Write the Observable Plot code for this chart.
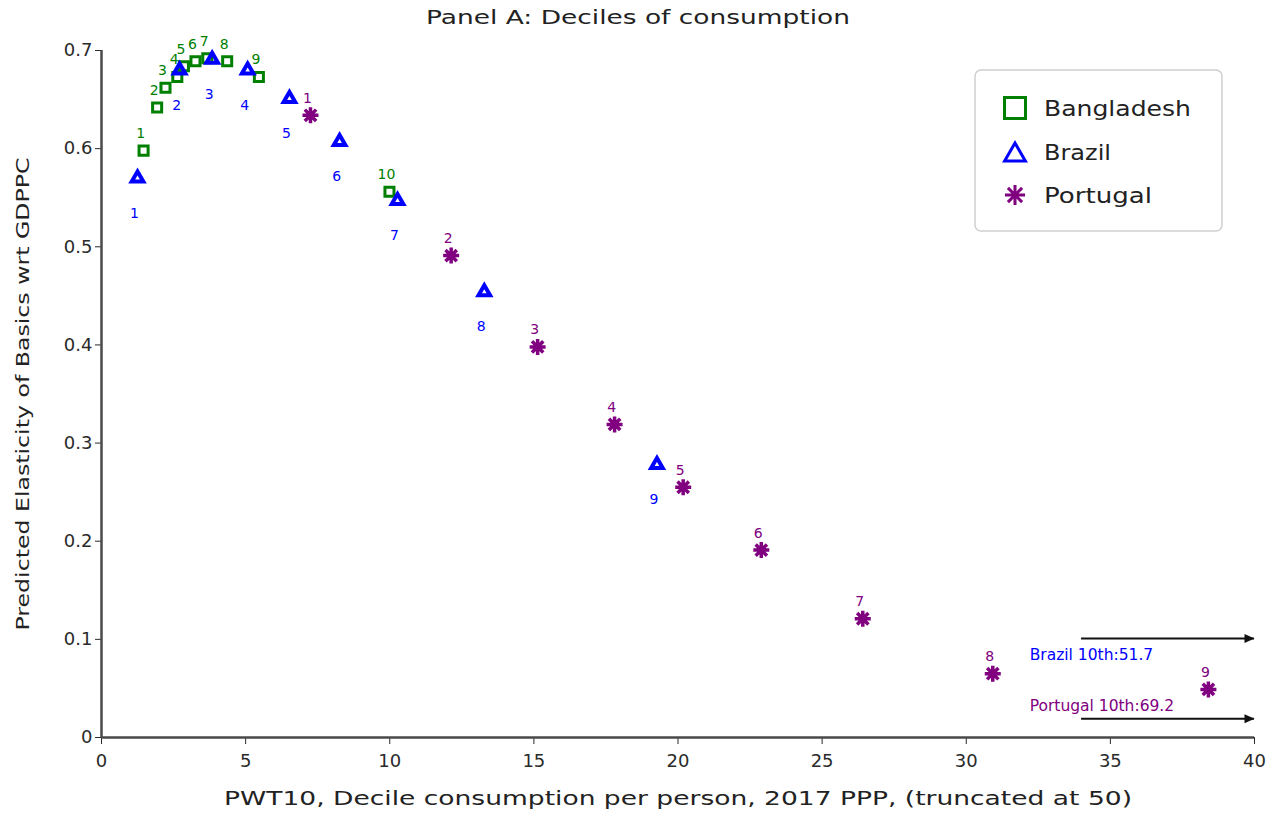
<!DOCTYPE html>
<html>
<head>
<meta charset="utf-8">
<script src="https://cdn.jsdelivr.net/npm/d3@7"></script>
<script src="https://cdn.jsdelivr.net/npm/@observablehq/plot@0.6"></script>
<style>
  html, body { margin: 0; padding: 0; background: #fff; }
  #chart { width: 1274px; height: 815px; }
</style>
</head>
<body>
<div id="chart"></div>
<script>
// Predicted elasticity of basics w.r.t. GDP per capita, by decile of consumption
const deciles = [1, 2, 3, 4, 5, 6, 7, 8, 9, 10];

const bangladeshX = [1.46, 1.93, 2.22, 2.63, 2.86, 3.26, 3.67, 4.36, 5.46, 9.99];
const bangladeshY = [0.598, 0.642, 0.662, 0.673, 0.684, 0.689, 0.692, 0.689, 0.673, 0.556];

const brazilX = [1.25, 2.71, 3.84, 5.07, 6.52, 8.26, 10.27, 13.28, 19.27];
const brazilY = [0.570, 0.680, 0.691, 0.680, 0.651, 0.607, 0.547, 0.454, 0.278];

const portugalX = [7.25, 12.13, 15.13, 17.80, 20.18, 22.89, 26.41, 30.92, 38.40];
const portugalY = [0.634, 0.491, 0.398, 0.319, 0.255, 0.191, 0.121, 0.065, 0.049];

// top deciles lie beyond the truncated axis
const topCountries = ["Brazil", "Portugal"];
const topX = [51.7, 69.2];
const topY = [0.101, 0.019];

const xTicks = [0, 5, 10, 15, 20, 25, 30, 35, 40];
const yTicks = [0, 0.1, 0.2, 0.3, 0.4, 0.5, 0.6, 0.7];

const titleText = "Panel A: Deciles of consumption";
const xLabel = "PWT10, Decile consumption per person, 2017 PPP, (truncated at 50)";
const yLabel = "Predicted Elasticity of Basics wrt GDPPC";

const green = "#008000", blue = "#0000ff", purple = "#800080";
const axisColor = "#4a4a4a";
const font = "'DejaVu Sans', Verdana, sans-serif";

const rows = (xs, ys) => xs.map((x, i) => ({decile: deciles[i], x, y: ys[i]}));
const bangladesh = rows(bangladeshX, bangladeshY);
const brazil = rows(brazilX, brazilY);
const portugal = rows(portugalX, portugalY);
const tops = topCountries.map((c, i) => ({country: c, x: topX[i], y: topY[i]}));

// eight-armed asterisk
const asterisk8 = {
  draw(context, size) {
    const r = Math.sqrt(size / Math.PI);
    for (let k = 0; k < 4; k++) {
      const a = k * Math.PI / 4;
      const c = Math.cos(a) * r, s = Math.sin(a) * r;
      context.moveTo(c, s);
      context.lineTo(-c, -s);
    }
  }
};

// solid arrowhead whose tip sits on the anchor point, pointing right
const arrowHead = {
  draw(context) {
    context.moveTo(0, 0);
    context.lineTo(-10, -4.5);
    context.lineTo(-10, 4.5);
    context.closePath();
  }
};

const arrowFrom = 34, arrowTo = 40, noteX = 32.2;
const noteText = d => `${d.country} 10th:${d.x}`;

const chart = Plot.plot({
  width: 1274,
  height: 815,
  marginLeft: 101,
  marginRight: 20,
  marginTop: 50,
  marginBottom: 78,
  style: {fontFamily: font, fontSize: "18px", color: "#2a2a2a", background: "#fff"},
  x: {domain: [0, 40], ticks: xTicks, tickFormat: d => String(d), tickSize: 7, tickPadding: 10, label: null},
  y: {domain: [0, 0.7], ticks: yTicks, tickFormat: d => String(d), tickSize: 6, tickPadding: 3, label: null},
  marks: [
    Plot.ruleY([0], {stroke: axisColor, strokeWidth: 2.5}),
    Plot.ruleX([0], {stroke: axisColor, strokeWidth: 2.5}),

    Plot.dot(bangladesh, {x: "x", y: "y", symbol: "square", r: 5.1, fill: "none", stroke: green, strokeWidth: 3}),
    Plot.dot(brazil, {x: "x", y: "y", symbol: "triangle", r: 4.3, fill: "none", stroke: blue, strokeWidth: 4}),
    Plot.dot(portugal, {x: "x", y: "y", symbol: asterisk8, r: 8, fill: "none", stroke: purple, strokeWidth: 3.5}),

    Plot.text(bangladesh, {x: "x", y: "y", text: "decile", dx: -3, dy: -17, fill: green, fontSize: 14}),
    Plot.text(brazil, {x: "x", y: "y", text: "decile", dx: -3, dy: 35, fill: blue, fontSize: 14}),
    Plot.text(portugal, {x: "x", y: "y", text: "decile", dx: -3, dy: -17, fill: purple, fontSize: 14}),

    // off-scale top deciles
    Plot.ruleY(tops, {y: "y", x1: () => arrowFrom, x2: () => arrowTo, stroke: "#111", strokeWidth: 2}),
    Plot.dot(tops, {x: () => arrowTo, y: "y", symbol: arrowHead, fill: "#111", stroke: "none"}),
    Plot.text(tops.filter(d => d.country === "Brazil"), {x: () => noteX, y: "y", text: noteText, textAnchor: "start", dy: 17, fill: blue, fontSize: 15.5}),
    Plot.text(tops.filter(d => d.country === "Portugal"), {x: () => noteX, y: "y", text: noteText, textAnchor: "start", dy: -13, fill: purple, fontSize: 15.5}),

    // titles
    Plot.text([titleText], {frameAnchor: "top", lineAnchor: "middle", textAnchor: "middle", dx: -40, dy: -33, fontSize: 19, fill: "#222"}),
    Plot.text([xLabel], {frameAnchor: "bottom", lineAnchor: "middle", textAnchor: "middle", dy: 61, fontSize: 19, fill: "#222"}),
    Plot.text([yLabel], {frameAnchor: "left", lineAnchor: "middle", textAnchor: "middle", dx: -78, rotate: -90, fontSize: 18, fill: "#222"})
  ]
});

document.getElementById("chart").append(chart);

// legend
const legendItems = [
  {name: "Bangladesh", color: green, symbol: d3.symbolSquare, size: 441, shift: 0, width: 147},
  {name: "Brazil", color: blue, symbol: d3.symbolTriangle, size: 187, shift: 3, width: 67},
  {name: "Portugal", color: purple, symbol: asterisk8, size: Math.PI * 100, shift: 0, width: 108}
];
const rowY = [38, 82, 125];
const lg = d3.select(chart).append("g").attr("transform", "translate(975,70)");
lg.append("rect")
  .attr("width", 247).attr("height", 161).attr("rx", 6)
  .attr("fill", "#fff").attr("stroke", "#cfcfcf").attr("stroke-width", 1.5);
legendItems.forEach((it, i) => {
  lg.append("path")
    .attr("transform", `translate(40,${rowY[i] + it.shift})`)
    .attr("d", d3.symbol(it.symbol, it.size)())
    .attr("fill", "none").attr("stroke", it.color).attr("stroke-width", 3);
  lg.append("text")
    .attr("x", 69).attr("y", rowY[i]).attr("dy", "0.36em")
    .attr("text-anchor", "start")
    .attr("font-size", 21).attr("fill", "#222")
    .attr("textLength", it.width).attr("lengthAdjust", "spacingAndGlyphs")
    .text(it.name);
});

// widen the title texts to their set lengths
const fitted = new Map([[titleText, 424], [xLabel, 908], [yLabel, 473]]);
chart.querySelectorAll("text").forEach(t => {
  const w = fitted.get(t.textContent);
  if (w) {
    t.setAttribute("textLength", w);
    t.setAttribute("lengthAdjust", "spacingAndGlyphs");
  }
});
</script>
</body>
</html>
